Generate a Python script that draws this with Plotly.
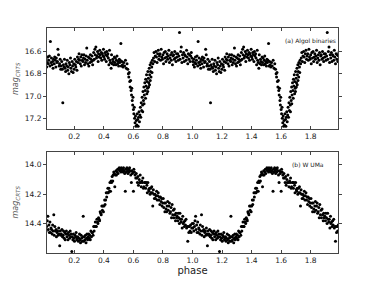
import plotly.graph_objects as go
from plotly.subplots import make_subplots

# ---------------- Panel (a) Algol binary (phase 0-1, repeated at phase+1) ----------------
algol_phase_out = [
    0.002, 0.006, 0.009, 0.013, 0.016, 0.020, 0.024, 0.027, 0.031, 0.035,
    0.038, 0.042, 0.045, 0.049, 0.053, 0.056, 0.060, 0.064, 0.067, 0.071,
    0.075, 0.078, 0.082, 0.086, 0.089, 0.093, 0.097, 0.100, 0.104, 0.108,
    0.111, 0.115, 0.119, 0.122, 0.126, 0.130, 0.133, 0.137, 0.141, 0.144,
    0.148, 0.152, 0.155, 0.159, 0.163, 0.166, 0.170, 0.174, 0.177, 0.181,
    0.185, 0.188, 0.192, 0.196, 0.199, 0.203, 0.207, 0.210, 0.214, 0.218,
    0.221, 0.225, 0.229, 0.232, 0.236, 0.240, 0.243, 0.247, 0.251, 0.254,
    0.258, 0.262, 0.265, 0.269, 0.273, 0.276, 0.280, 0.284, 0.287, 0.291,
    0.295, 0.298, 0.302, 0.306, 0.309, 0.313, 0.317, 0.320, 0.324, 0.328,
    0.331, 0.335, 0.339, 0.342, 0.346, 0.350, 0.353, 0.357, 0.361, 0.364,
    0.368, 0.372, 0.375, 0.379, 0.383, 0.386, 0.390, 0.394, 0.397, 0.401,
    0.405, 0.408, 0.412, 0.416, 0.419, 0.423, 0.427, 0.430, 0.434, 0.438,
    0.441, 0.445, 0.449, 0.452, 0.456, 0.460, 0.463, 0.467, 0.471, 0.474,
    0.478, 0.482, 0.485, 0.489, 0.493, 0.496, 0.500, 0.504, 0.507, 0.511,
    0.515, 0.518, 0.522, 0.526, 0.530, 0.535, 0.540, 0.546, 0.552, 0.557,
]
algol_mag_out = [
    16.69, 16.72, 16.67, 16.74, 16.70, 16.65, 16.71, 16.68, 16.64, 16.73,
    16.51, 16.70, 16.66, 16.72, 16.69, 16.75, 16.67, 16.71, 16.65, 16.68,
    16.74, 16.66, 16.70, 16.69, 16.58, 16.63, 16.73, 16.71, 16.67, 16.76,
    16.73, 16.69, 16.76, 17.06, 16.72, 16.74, 16.67, 16.75, 16.78, 16.71,
    16.73, 16.68, 16.77, 16.74, 16.80, 16.70, 16.72, 16.66, 16.75, 16.78,
    16.69, 16.73, 16.79, 16.71, 16.76, 16.67, 16.72, 16.74, 16.69, 16.77,
    16.65, 16.70, 16.67, 16.62, 16.68, 16.71, 16.65, 16.73, 16.63, 16.68,
    16.69, 16.66, 16.63, 16.72, 16.67, 16.70, 16.64, 16.57, 16.68, 16.71,
    16.65, 16.73, 16.66, 16.70, 16.63, 16.67, 16.69, 16.64, 16.72, 16.68,
    16.61, 16.67, 16.58, 16.63, 16.56, 16.66, 16.64, 16.60, 16.69, 16.62,
    16.65, 16.59, 16.63, 16.66, 16.61, 16.68, 16.62, 16.64, 16.58, 16.65,
    16.67, 16.61, 16.63, 16.69, 16.60, 16.64, 16.62, 16.66, 16.72, 16.59,
    16.68, 16.70, 16.75, 16.63, 16.71, 16.67, 16.69, 16.72, 16.65, 16.70,
    16.66, 16.72, 16.68, 16.64, 16.71, 16.69, 16.73, 16.67, 16.70, 16.68,
    16.53, 16.73, 16.69, 16.72, 16.74, 16.70, 16.73, 16.68, 16.75, 16.71,
]
algol_phase_ecl = [
    0.562, 0.566, 0.569, 0.572, 0.575, 0.578, 0.581, 0.584, 0.587, 0.589,
    0.592, 0.595, 0.597, 0.600, 0.603, 0.606, 0.608, 0.611, 0.614, 0.617,
    0.620, 0.623, 0.626, 0.629, 0.632, 0.635, 0.638, 0.641, 0.644, 0.647,
    0.650, 0.653, 0.656, 0.659, 0.662, 0.665, 0.668, 0.671, 0.674, 0.677,
    0.680, 0.683, 0.686, 0.689, 0.692, 0.695, 0.698, 0.701, 0.704, 0.707,
    0.710, 0.713, 0.716, 0.720, 0.724, 0.728, 0.732,
    0.663, 0.672, 0.682, 0.691, 0.697, 0.703, 0.709, 0.714, 0.719, 0.726,
]
algol_mag_ecl = [
    16.76, 16.80, 16.83, 16.79, 16.87, 16.92, 16.86, 16.95, 16.99, 16.93,
    17.04, 17.08, 17.01, 17.12, 17.16, 17.10, 17.20, 17.24, 17.18, 17.27,
    17.22, 17.26, 17.16, 17.21, 17.27, 17.19, 17.14, 17.23, 17.17, 17.10,
    17.19, 17.06, 17.13, 17.01, 17.08, 16.96, 17.04, 16.92, 16.99, 16.88,
    16.95, 16.85, 16.91, 16.81, 16.87, 16.93, 16.78, 16.84, 16.88, 16.75,
    16.81, 16.72, 16.78, 16.70, 16.74, 16.68, 16.71,
    17.14, 17.07, 17.02, 16.98, 16.96, 16.92, 16.90, 16.86, 16.83, 16.79,
]
algol_phase_post = [
    0.736, 0.740, 0.744, 0.748, 0.752, 0.756, 0.760, 0.764, 0.768, 0.772,
    0.776, 0.780, 0.784, 0.788, 0.792, 0.796, 0.800, 0.804, 0.808, 0.812,
    0.816, 0.820, 0.824, 0.828, 0.832, 0.836, 0.840, 0.844, 0.848, 0.852,
    0.856, 0.860, 0.864, 0.868, 0.872, 0.876, 0.880, 0.884, 0.888, 0.892,
    0.896, 0.900, 0.904, 0.908, 0.912, 0.916, 0.920, 0.924, 0.928, 0.932,
    0.936, 0.940, 0.944, 0.948, 0.952, 0.956, 0.960, 0.964, 0.968, 0.972,
    0.976, 0.980, 0.984, 0.988, 0.992, 0.996,
]
algol_mag_post = [
    16.66, 16.61, 16.69, 16.64, 16.60, 16.65, 16.70, 16.62, 16.59, 16.67,
    16.64, 16.62, 16.68, 16.58, 16.65, 16.67, 16.63, 16.71, 16.61, 16.66,
    16.60, 16.69, 16.65, 16.62, 16.67, 16.64, 16.59, 16.70, 16.66, 16.63,
    16.68, 16.61, 16.72, 16.64, 16.63, 16.67, 16.60, 16.66, 16.69, 16.62,
    16.65, 16.62, 16.68, 16.64, 16.43, 16.67, 16.60, 16.56, 16.70, 16.63,
    16.66, 16.61, 16.69, 16.63, 16.64, 16.68, 16.59, 16.65, 16.71, 16.62,
    16.67, 16.63, 16.69, 16.64, 16.61, 16.66,
]

# ---------------- Panel (b) W UMa (phase 0-1, repeated at phase+1) ----------------
wuma_phase_low = [
    0.002, 0.006, 0.009, 0.013, 0.017, 0.021, 0.024, 0.028, 0.031, 0.035,
    0.039, 0.042, 0.046, 0.050, 0.053, 0.057, 0.061, 0.064, 0.068, 0.072,
    0.076, 0.079, 0.083, 0.087, 0.090, 0.094, 0.098, 0.101, 0.105, 0.109,
    0.112, 0.116, 0.120, 0.124, 0.127, 0.131, 0.135, 0.138, 0.142, 0.146,
    0.150, 0.153, 0.157, 0.161, 0.164, 0.168, 0.172, 0.175, 0.179, 0.183,
    0.186, 0.190, 0.194, 0.197, 0.201, 0.205, 0.209, 0.212, 0.216, 0.220,
    0.223, 0.227, 0.231, 0.235, 0.238, 0.242, 0.246, 0.249, 0.253, 0.257,
    0.260, 0.264, 0.268, 0.271, 0.275, 0.279, 0.283, 0.286, 0.290, 0.294,
    0.297, 0.301, 0.305, 0.308, 0.312, 0.316, 0.319,
]
wuma_mag_low = [
    14.43, 14.40, 14.45, 14.42, 14.38, 14.35, 14.44, 14.41, 14.46, 14.39,
    14.46, 14.43, 14.44, 14.47, 14.41, 14.45, 14.34, 14.48, 14.42, 14.45,
    14.44, 14.49, 14.46, 14.45, 14.48, 14.43, 14.47, 14.55, 14.45, 14.48,
    14.47, 14.44, 14.49, 14.48, 14.45, 14.50, 14.46, 14.51, 14.47, 14.45,
    14.49, 14.47, 14.51, 14.46, 14.48, 14.50, 14.45, 14.49, 14.47, 14.59,
    14.49, 14.51, 14.47, 14.50, 14.52, 14.48, 14.49, 14.46, 14.51, 14.50,
    14.49, 14.52, 14.50, 14.47, 14.51, 14.53, 14.48, 14.50, 14.52, 14.49,
    14.35, 14.52, 14.49, 14.51, 14.48, 14.53, 14.50, 14.47, 14.51, 14.49,
    14.47, 14.50, 14.48, 14.51, 14.45, 14.49, 14.46,
]
wuma_phase_rise = [
    0.323, 0.327, 0.331, 0.334, 0.338, 0.342, 0.346, 0.349, 0.353, 0.357,
    0.360, 0.364, 0.368, 0.371, 0.375, 0.379, 0.382, 0.386, 0.390, 0.393,
    0.397, 0.401, 0.405, 0.408, 0.412, 0.416, 0.419, 0.423, 0.427, 0.430,
    0.434, 0.438, 0.441, 0.445, 0.449, 0.452, 0.456, 0.460, 0.463, 0.467,
    0.471, 0.474, 0.478, 0.482, 0.485, 0.489, 0.493, 0.496,
]
wuma_mag_rise = [
    14.46, 14.48, 14.42, 14.45, 14.42, 14.39, 14.42, 14.42, 14.37, 14.39,
    14.40, 14.36, 14.37, 14.38, 14.32, 14.33, 14.34, 14.28, 14.31, 14.28,
    14.32, 14.28, 14.24, 14.27, 14.24, 14.19, 14.22, 14.19, 14.16, 14.19,
    14.16, 14.18, 14.12, 14.18, 14.11, 14.12, 14.08, 14.11, 14.07, 14.05,
    14.06, 14.15, 14.07, 14.04, 14.07, 14.05, 14.03, 14.06,
]
wuma_phase_peak = [
    0.500, 0.504, 0.507, 0.511, 0.515, 0.518, 0.522, 0.526, 0.530, 0.533,
    0.537, 0.541, 0.545, 0.548, 0.552, 0.556, 0.560, 0.563, 0.567, 0.571,
    0.574, 0.578, 0.582, 0.586, 0.589, 0.593, 0.597, 0.600,
]
wuma_mag_peak = [
    14.03, 14.02, 14.04, 14.03, 14.05, 14.02, 14.04, 14.03, 14.05, 14.02,
    14.04, 14.06, 14.18, 14.03, 14.05, 14.02, 14.04, 14.06, 14.03, 14.05,
    14.02, 14.04, 14.07, 14.12, 14.04, 14.06, 14.05, 14.18,
]
wuma_phase_fall = [
    0.603, 0.607, 0.611, 0.616, 0.619, 0.623, 0.627, 0.631, 0.634, 0.639,
    0.641, 0.646, 0.649, 0.653, 0.657, 0.661, 0.664, 0.668, 0.671, 0.676,
    0.679, 0.683, 0.687, 0.691, 0.694, 0.698, 0.703, 0.706, 0.709, 0.713,
    0.717, 0.721, 0.724, 0.728, 0.731, 0.735, 0.739, 0.742, 0.746, 0.749,
    0.753, 0.757, 0.761, 0.764, 0.768, 0.772, 0.776, 0.779, 0.783, 0.787,
    0.791, 0.794, 0.798, 0.802, 0.806, 0.810, 0.813, 0.817, 0.821, 0.825,
    0.828, 0.832, 0.836, 0.840, 0.844, 0.847, 0.851, 0.855, 0.858, 0.862,
    0.866, 0.870, 0.873, 0.877, 0.881, 0.885, 0.888, 0.892, 0.896, 0.900,
    0.903, 0.907, 0.911, 0.915, 0.918, 0.922, 0.926, 0.930, 0.934, 0.937,
    0.941, 0.945, 0.949, 0.952, 0.956, 0.960, 0.964, 0.968, 0.971, 0.975,
    0.979, 0.983, 0.987, 0.991, 0.995, 0.998,
]
wuma_mag_fall = [
    14.03, 14.05, 14.07, 14.09, 14.06, 14.09, 14.12, 14.08, 14.14, 14.10,
    14.12, 14.07, 14.12, 14.15, 14.11, 14.12, 14.09, 14.16, 14.15, 14.12,
    14.12, 14.16, 14.12, 14.14, 14.19, 14.12, 14.17, 14.18, 14.16, 14.20,
    14.16, 14.19, 14.15, 14.19, 14.28, 14.17, 14.20, 14.23, 14.20, 14.23,
    14.21, 14.18, 14.24, 14.21, 14.19, 14.24, 14.22, 14.27, 14.22, 14.25,
    14.23, 14.28, 14.26, 14.23, 14.29, 14.26, 14.32, 14.26, 14.30, 14.32,
    14.28, 14.25, 14.31, 14.28, 14.26, 14.33, 14.32, 14.29, 14.36, 14.27,
    14.34, 14.31, 14.36, 14.30, 14.34, 14.38, 14.33, 14.36, 14.35, 14.38,
    14.33, 14.36, 14.40, 14.33, 14.37, 14.39, 14.37, 14.43, 14.35, 14.40,
    14.39, 14.42, 14.38, 14.41, 14.37, 14.43, 14.42, 14.52, 14.42, 14.46,
    14.42, 14.45, 14.41, 14.46, 14.43, 14.40,
]

x_ticks = [0.2, 0.4, 0.6, 0.8, 1.0, 1.2, 1.4, 1.6, 1.8]
x_tick_text = ["0.2", "0.4", "0.6", "0.8", "1.0", "1.2", "1.4", "1.6", "1.8"]
a_ticks = [16.6, 16.8, 17.0, 17.2]
a_tick_text = ["16.6", "16.8", "17.0", "17.2"]
b_ticks = [14.0, 14.2, 14.4]
b_tick_text = ["14.0", "14.2", "14.4"]

FONT = "DejaVu Sans"

algol_phase = algol_phase_out + algol_phase_ecl + algol_phase_post
algol_mag = algol_mag_out + algol_mag_ecl + algol_mag_post
wuma_phase = wuma_phase_low + wuma_phase_rise + wuma_phase_peak + wuma_phase_fall
wuma_mag = wuma_mag_low + wuma_mag_rise + wuma_mag_peak + wuma_mag_fall

a_x = algol_phase + [p + 1 for p in algol_phase]
a_y = algol_mag + algol_mag
b_x = wuma_phase + [p + 1 for p in wuma_phase]
b_y = wuma_mag + wuma_mag

fig = make_subplots(rows=2, cols=1, vertical_spacing=0.098)

marker = dict(color="black", size=3, line=dict(width=0))
fig.add_trace(go.Scatter(x=a_x, y=a_y, mode="markers", marker=marker, showlegend=False), row=1, col=1)
fig.add_trace(go.Scatter(x=b_x, y=b_y, mode="markers", marker=marker, showlegend=False), row=2, col=1)

axis_common = dict(showgrid=False, zeroline=False, showline=True, linecolor="#444", linewidth=1,
                   mirror="ticks", ticklen=3, tickcolor="#444", automargin=False,
                   tickfont=dict(family=FONT, size=7.5, color="#222"))

for r in (1, 2):
    fig.update_xaxes(range=[0.015, 1.985], tickvals=x_ticks, ticktext=x_tick_text, ticks="inside",
                     **axis_common, row=r, col=1)
fig.update_xaxes(title=dict(text="phase", font=dict(family=FONT, size=10, color="#222"), standoff=2), row=2, col=1)

ytitle = dict(text="<i>mag</i><sub><i>CRTS</i></sub>", font=dict(family=FONT, size=8, color="#555"), standoff=4)
fig.update_yaxes(range=[17.3, 16.39], tickvals=a_ticks, ticktext=a_tick_text, ticks="outside",
                 title=ytitle, **axis_common, row=1, col=1)
fig.update_yaxes(range=[14.6, 13.91], tickvals=b_ticks, ticktext=b_tick_text, ticks="outside",
                 title=ytitle, **axis_common, row=2, col=1)

fig.add_annotation(text="(a) Algol binaries", xref="x domain", yref="y domain", x=1.0, y=0.93,
                   xanchor="right", yanchor="top", showarrow=False,
                   font=dict(family=FONT, size=6, color="#222"))
fig.add_annotation(text="(b) W UMa", xref="x2 domain", yref="y2 domain", x=0.96, y=0.93,
                   xanchor="right", yanchor="top", showarrow=False,
                   font=dict(family=FONT, size=6, color="#222"))

fig.update_layout(width=376, height=282, margin=dict(l=47, r=38, t=28, b=29),
                  paper_bgcolor="white", plot_bgcolor="white")

fig.write_html("out.html", config={"displayModeBar": False},
               post_script="document.body.style.margin='0';document.body.style.padding='0';")
